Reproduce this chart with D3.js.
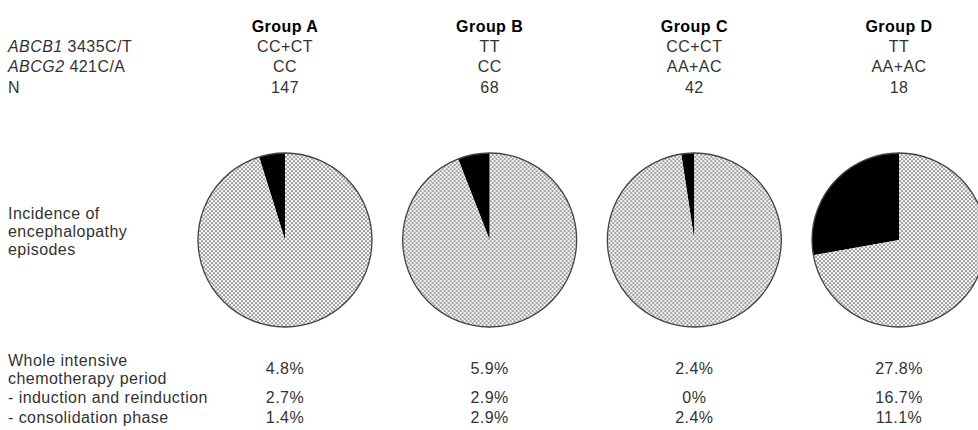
<!DOCTYPE html>
<html>
<head>
<meta charset="utf-8">
<script src="https://cdn.jsdelivr.net/npm/d3@7"></script>
<style>
  html, body { margin: 0; padding: 0; background: #fff; }
  svg { display: block; }
  text { font-family: "Liberation Sans", Arial, sans-serif; }
</style>
</head>
<body>
<script>
const groups = ["Group A", "Group B", "Group C", "Group D"];
const abcb1 = ["CC+CT", "TT", "CC+CT", "TT"];
const abcg2 = ["CC", "CC", "AA+AC", "AA+AC"];
const nValues = [147, 68, 42, 18];
const wholePeriod = [4.8, 5.9, 2.4, 27.8];
const induction = [2.7, 2.9, 0, 16.7];
const consolidation = [1.4, 2.9, 2.4, 11.1];

const W = 978, H = 430;
const svg = d3.select("body").append("svg").attr("width", W).attr("height", H);

const defs = svg.append("defs");
const pat = defs.append("pattern").attr("id", "dots")
  .attr("patternUnits", "userSpaceOnUse").attr("width", 4).attr("height", 4);
pat.append("rect").attr("width", 4).attr("height", 4).attr("fill", "#f2f2f2");
pat.append("circle").attr("cx", 1).attr("cy", 1).attr("r", 0.85).attr("fill", "#5e5e5e");
pat.append("circle").attr("cx", 3).attr("cy", 3).attr("r", 0.85).attr("fill", "#5e5e5e");

const x = d3.scalePoint().domain(groups).range([285, 899]);
const fs = 16;
const ls = 0.45;
const txt = "#333";

// left labels
const left = svg.append("g").attr("font-size", fs).attr("fill", txt).attr("letter-spacing", ls);
function leftLabel(y, parts) {
  const t = left.append("text").attr("x", 8).attr("y", y);
  parts.forEach(p => t.append("tspan").attr("font-style", p[1] ? "italic" : null).text(p[0]));
}
leftLabel(52, [["ABCB1", true], [" 3435C/T", false]]);
leftLabel(72, [["ABCG2", true], [" 421C/A", false]]);
leftLabel(93, [["N", false]]);
leftLabel(219, [["Incidence of", false]]);
leftLabel(237, [["encephalopathy", false]]);
leftLabel(255, [["episodes", false]]);
leftLabel(366, [["Whole intensive", false]]);
leftLabel(384, [["chemotherapy period", false]]);
leftLabel(403, [["- induction and reinduction", false]]);
leftLabel(423, [["- consolidation phase", false]]);

const fmt = v => v === 0 ? "0%" : d3.format(".1f")(v) + "%";

const cols = svg.append("g").selectAll("g").data(groups).join("g")
  .attr("transform", d => `translate(${x(d)},0)`);

cols.append("text").attr("y", 32).attr("text-anchor", "middle")
  .attr("font-size", fs).attr("letter-spacing", ls).attr("font-weight", "bold")
  .attr("fill", "#000").text(d => d);

const rows = [
  [52, abcb1], [72, abcg2], [93, nValues],
  [374, wholePeriod.map(fmt)], [403, induction.map(fmt)], [423, consolidation.map(fmt)]
];
rows.forEach(([y, arr]) => {
  cols.append("text").attr("y", y).attr("text-anchor", "middle")
    .attr("font-size", fs).attr("letter-spacing", ls).attr("fill", txt).text((d, i) => arr[i]);
});

// pies
const R = 87, cy = 240;
const arc = d3.arc().innerRadius(0).outerRadius(R);
cols.each(function(d, i) {
  const p = wholePeriod[i];
  const a0 = -2 * Math.PI * p / 100;
  const pie = d3.pie().sort(null).startAngle(a0).endAngle(a0 + 2 * Math.PI);
  const slices = pie([p, 100 - p]);
  const g = d3.select(this).append("g").attr("transform", `translate(0,${cy})`);
  g.selectAll("path").data(slices).join("path")
    .attr("d", arc)
    .attr("fill", (s, k) => k === 0 ? "#000" : "url(#dots)")
    .attr("stroke", "none");
  g.append("circle").attr("r", R).attr("fill", "none")
    .attr("stroke", "#444").attr("stroke-width", 1.3);
});
</script>
</body>
</html>
